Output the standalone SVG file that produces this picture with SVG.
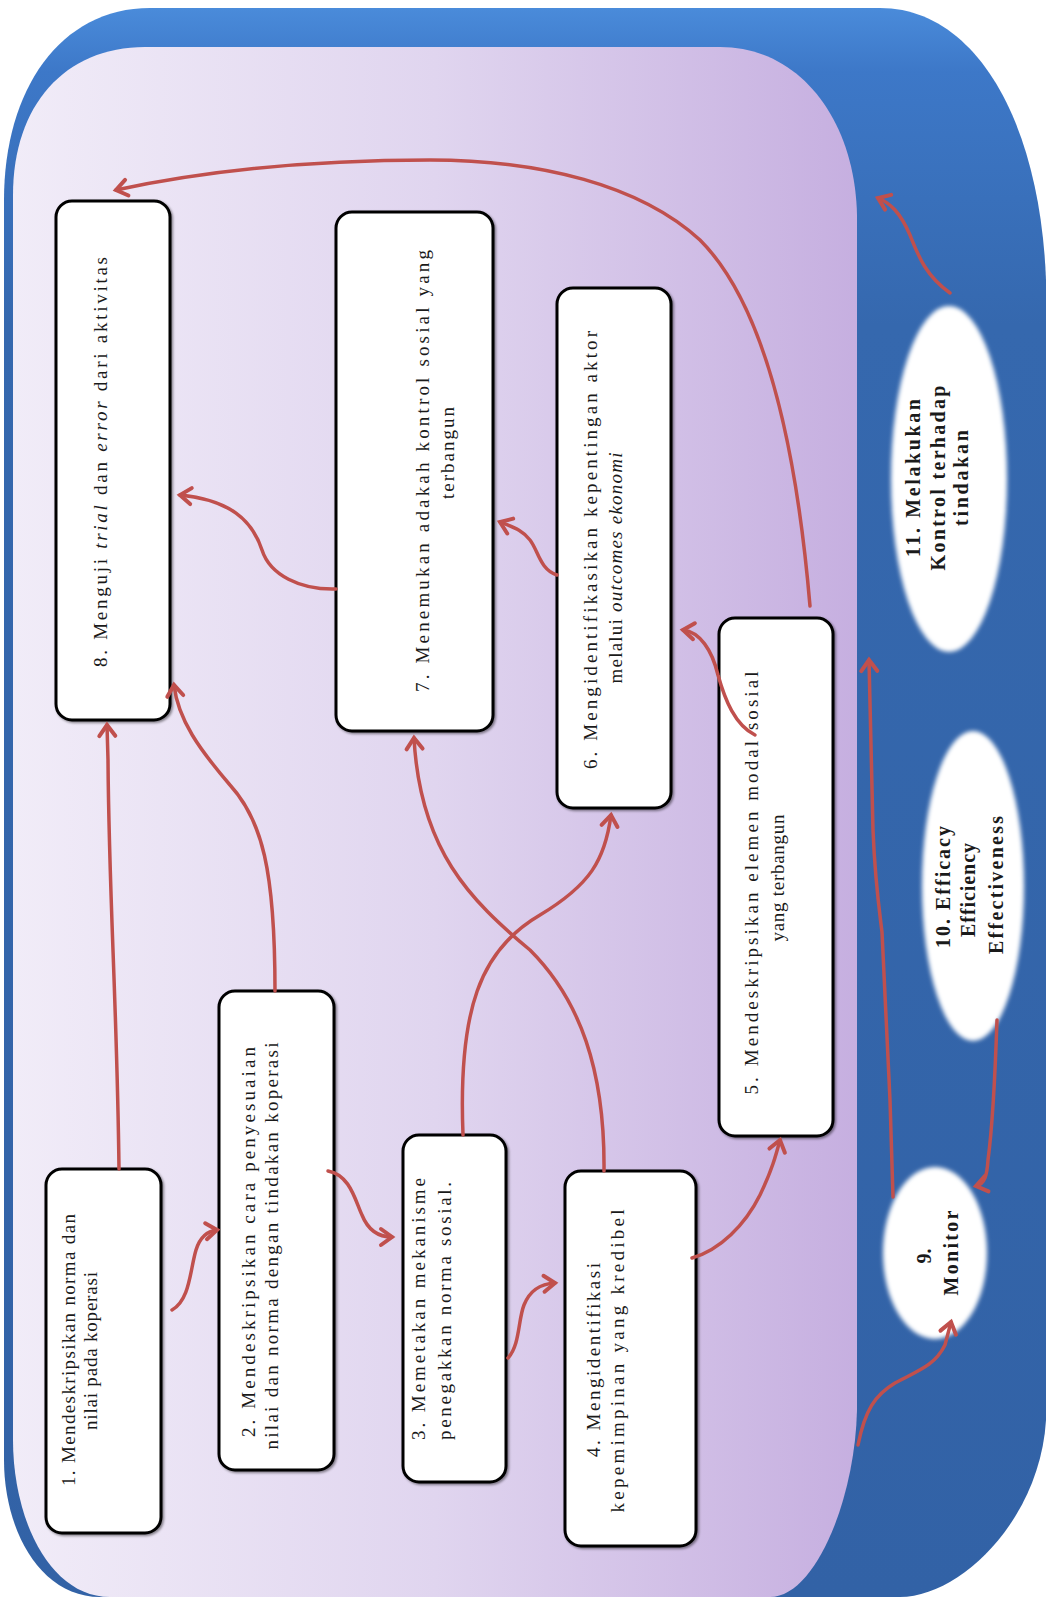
<svg xmlns="http://www.w3.org/2000/svg" width="1051" height="1597" viewBox="0 0 1051 1597">
<defs>
<linearGradient id="lav" x1="0" y1="0" x2="1" y2="0">
<stop offset="0" stop-color="#f1ecf8"/>
<stop offset="0.5" stop-color="#e0d5ef"/>
<stop offset="1" stop-color="#c6afe0"/>
</linearGradient>
<linearGradient id="blue" x1="0" y1="0" x2="0" y2="1">
<stop offset="0" stop-color="#4a8bda"/>
<stop offset="0.04" stop-color="#3d78c8"/>
<stop offset="0.2" stop-color="#3568ae"/>
<stop offset="1" stop-color="#3262a6"/>
</linearGradient>
<filter id="glow" x="-20%" y="-20%" width="140%" height="140%">
<feGaussianBlur stdDeviation="2.2"/>
</filter>
<filter id="shadow" x="-10%" y="-10%" width="130%" height="130%">
<feDropShadow dx="1.5" dy="1.5" stdDeviation="1.2" flood-color="#000" flood-opacity="0.45"/>
</filter>
<marker id="arr" viewBox="-14 -10 16 20" markerWidth="16" markerHeight="20" refX="0" refY="0" orient="auto" markerUnits="userSpaceOnUse" overflow="visible">
<path d="M-11,-8 L0,0 L-11,8" fill="none" stroke="#c0504d" stroke-width="4" stroke-linecap="round" stroke-linejoin="miter"/>
</marker>
<style>
.box{fill:#ffffff;stroke:#000000;stroke-width:3;filter:url(#shadow)}
.bt{font-family:"Liberation Serif",serif;font-size:19px;fill:#1a1a1a;text-anchor:middle}
.et{font-family:"Liberation Serif",serif;font-size:20px;font-weight:bold;fill:#1a1a1a;text-anchor:middle}
.con{fill:none;stroke:#c0504d;stroke-width:3.5;stroke-linecap:round;marker-end:url(#arr)}
.ellipse{fill:#ffffff;filter:url(#glow)}
</style>
</defs>
<rect width="1051" height="1597" fill="#ffffff"/>
<g id="background">
<path d="M150,8 L880,8 C975,8 1040,120 1046,280 L1046,1420 C1040,1520 960,1597 900,1597 L100,1597 C40,1597 4,1530 4,1460 L4,200 C4,90 60,8 150,8 Z" fill="url(#blue)"/>
<path d="M145,47 L720,47 C800,47 855,120 857,215 L857,1410 C855,1500 815,1597 770,1597 L110,1597 C50,1597 13,1520 13,1440 L13,195 C13,105 65,47 145,47 Z" fill="url(#lav)"/>
</g>
<g id="node-1">
<rect class="box" x="46" y="1169" width="115" height="364" rx="16"/>
<text class="bt" transform="translate(75,1350) rotate(-90)" textLength="272" lengthAdjust="spacing">1. Mendeskripsikan norma dan</text>
<text class="bt" transform="translate(97,1351) rotate(-90)" textLength="158" lengthAdjust="spacing">nilai pada koperasi</text>
</g>
<g id="node-2">
<rect class="box" x="219" y="991" width="115" height="479" rx="16"/>
<text class="bt" transform="translate(255,1242) rotate(-90)" textLength="390" lengthAdjust="spacing">2. Mendeskripsikan cara penyesuaian</text>
<text class="bt" transform="translate(278,1246) rotate(-90)" textLength="407" lengthAdjust="spacing">nilai dan norma dengan tindakan koperasi</text>
</g>
<g id="node-3">
<rect class="box" x="403" y="1135" width="103" height="347" rx="16"/>
<text class="bt" transform="translate(425,1309) rotate(-90)" textLength="262" lengthAdjust="spacing">3. Memetakan mekanisme</text>
<text class="bt" transform="translate(451,1311) rotate(-90)" textLength="258" lengthAdjust="spacing">penegakkan norma sosial.</text>
</g>
<g id="node-4">
<rect class="box" x="565" y="1171" width="131" height="375" rx="16"/>
<text class="bt" transform="translate(600,1360) rotate(-90)" textLength="194" lengthAdjust="spacing">4. Mengidentifikasi</text>
<text class="bt" transform="translate(624,1361) rotate(-90)" textLength="303" lengthAdjust="spacing">kepemimpinan yang kredibel</text>
</g>
<g id="node-5">
<rect class="box" x="719" y="618" width="114" height="518" rx="16"/>
<text class="bt" transform="translate(758,883) rotate(-90)" textLength="423" lengthAdjust="spacing">5. Mendeskripsikan elemen modal sosial</text>
<text class="bt" transform="translate(784,878) rotate(-90)" textLength="127" lengthAdjust="spacing">yang terbangun</text>
</g>
<g id="node-6">
<rect class="box" x="557" y="288" width="114" height="520" rx="16"/>
<text class="bt" transform="translate(597,550) rotate(-90)" textLength="438" lengthAdjust="spacing">6. Mengidentifikasikan kepentingan aktor</text>
<text class="bt" transform="translate(622,568) rotate(-90)" textLength="231" lengthAdjust="spacing">melalui <tspan font-style="italic">outcomes ekonomi</tspan></text>
</g>
<g id="node-7">
<rect class="box" x="336" y="212" width="157" height="519" rx="16"/>
<text class="bt" transform="translate(429,471) rotate(-90)" textLength="442" lengthAdjust="spacing">7. Menemukan adakah kontrol sosial yang</text>
<text class="bt" transform="translate(454,453) rotate(-90)" textLength="92" lengthAdjust="spacing">terbangun</text>
</g>
<g id="node-8">
<rect class="box" x="56" y="201" width="114" height="519" rx="16"/>
<text class="bt" transform="translate(107,462) rotate(-90)" textLength="410" lengthAdjust="spacing">8. Menguji <tspan font-style="italic">trial</tspan> dan <tspan font-style="italic">error</tspan> dari aktivitas</text>
</g>
<g id="node-9">
<ellipse class="ellipse" cx="935" cy="1253" rx="52" ry="86"/>
<text class="et" transform="translate(931,1256) rotate(-90)">9.</text>
<text class="et" transform="translate(958,1253) rotate(-90)" textLength="85" lengthAdjust="spacing">Monitor</text>
</g>
<g id="node-10">
<ellipse class="ellipse" cx="973" cy="886" rx="51" ry="155"/>
<text class="et" transform="translate(950,887) rotate(-90)" textLength="122" lengthAdjust="spacing">10. Efficacy</text>
<text class="et" transform="translate(975,890) rotate(-90)" textLength="94" lengthAdjust="spacing">Efficiency</text>
<text class="et" transform="translate(1003,885) rotate(-90)" textLength="138" lengthAdjust="spacing">Effectiveness</text>
</g>
<g id="node-11">
<ellipse class="ellipse" cx="949" cy="479" rx="58" ry="173"/>
<text class="et" transform="translate(920,478) rotate(-90)" textLength="158" lengthAdjust="spacing">11. Melakukan</text>
<text class="et" transform="translate(945,478) rotate(-90)" textLength="185" lengthAdjust="spacing">Kontrol terhadap</text>
<text class="et" transform="translate(968,478) rotate(-90)" textLength="96" lengthAdjust="spacing">tindakan</text>
</g>
<g id="connectors">
<path class="con" d="M119,1169 C117,1000 109,900 108,760 L107,725"/>
<path class="con" d="M172,1310 C190,1300 190,1270 196,1250 C200,1237 208,1231 217,1230"/>
<path class="con" d="M328,1171 C350,1175 355,1200 362,1215 C368,1230 378,1237 392,1237"/>
<path class="con" d="M508,1358 C520,1345 518,1320 524,1305 C530,1290 540,1284 555,1283"/>
<path class="con" d="M692,1258 C720,1250 745,1225 760,1195 C772,1170 776,1155 780,1140"/>
<path class="con" d="M755,735 C735,725 725,700 718,675 C712,650 700,632 683,630"/>
<path class="con" d="M557,575 C540,570 538,550 530,540 C522,530 515,528 500,522"/>
<path class="con" d="M336,589 C300,590 270,575 262,550 C252,520 230,500 180,495"/>
<path class="con" d="M275,991 C275,870 262,820 230,785 C200,750 178,720 174,685"/>
<path class="con" d="M463,1135 C458,1010 480,950 540,915 C590,885 605,860 611,815"/>
<path class="con" d="M604,1171 C605,1070 580,1000 530,950 C470,900 420,850 414,738"/>
<path class="con" d="M810,606 C795,430 760,300 700,240 C640,185 540,160 430,160 C300,160 200,172 116,190"/>
<path class="con" d="M858,1445 C865,1410 875,1395 895,1383 C920,1370 935,1365 945,1345 L951,1322"/>
<path class="con" d="M893,1197 L890,1100 L882,932 C878,900 875,880 873,830 L869,660"/>
<path class="con" d="M997,1020 C995,1080 992,1130 988,1160 C987,1175 985,1184 976,1186"/>
<path class="con" d="M950,293 C925,275 918,255 910,235 C900,212 890,203 878,198"/>
</g>
</svg>
